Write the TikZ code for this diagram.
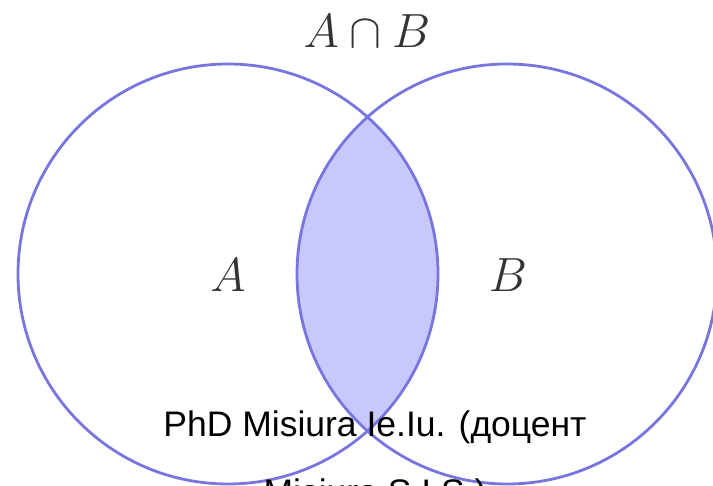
\RequirePackage{fix-cm}
\documentclass[tikz,border=0pt]{standalone}
\usepackage{fontspec}
\newfontfamily\wmfont{Liberation Sans}
\usetikzlibrary{positioning}
\definecolor{setblue}{RGB}{118,118,222}
\definecolor{lensfill}{RGB}{200,200,250}

\begin{document}
\begin{tikzpicture}[
    x=1pt, y=-1pt,
    node distance=34pt,
    setline/.style={draw=setblue, line width=2.8pt},
    lbl/.style={text=black!80, inner sep=1pt, font=\fontsize{48}{56}\selectfont},
    wm/.style={text=black, inner sep=0pt, font=\wmfont\fontsize{35.5}{40}\selectfont}
]
    \clip (0,0) rectangle (713,486);
    \fill[white] (0,0) rectangle (713,486);

    % shaded intersection
    \begin{scope}
        \clip (228,274) circle[radius=210pt];
        \fill[lensfill] (507,274) circle[radius=210pt];
    \end{scope}
    \draw[setline] (228,274) circle[radius=210pt];
    \draw[setline] (507,274) circle[radius=210pt];

    \node[lbl] (cap) at (367,31) {$A\cap B$};
    \node[lbl] (seta) at (228,275) {$A$};
    \node[lbl] (setb) at (508,275) {$B$};

    \node[wm, anchor=base] (wm1) at (375,437) {PhD Misiura Ie.Iu. (доцент};
    \node[wm, below=of wm1] (wm2) {Misiura S.I.S.)};
\end{tikzpicture}
\end{document}
